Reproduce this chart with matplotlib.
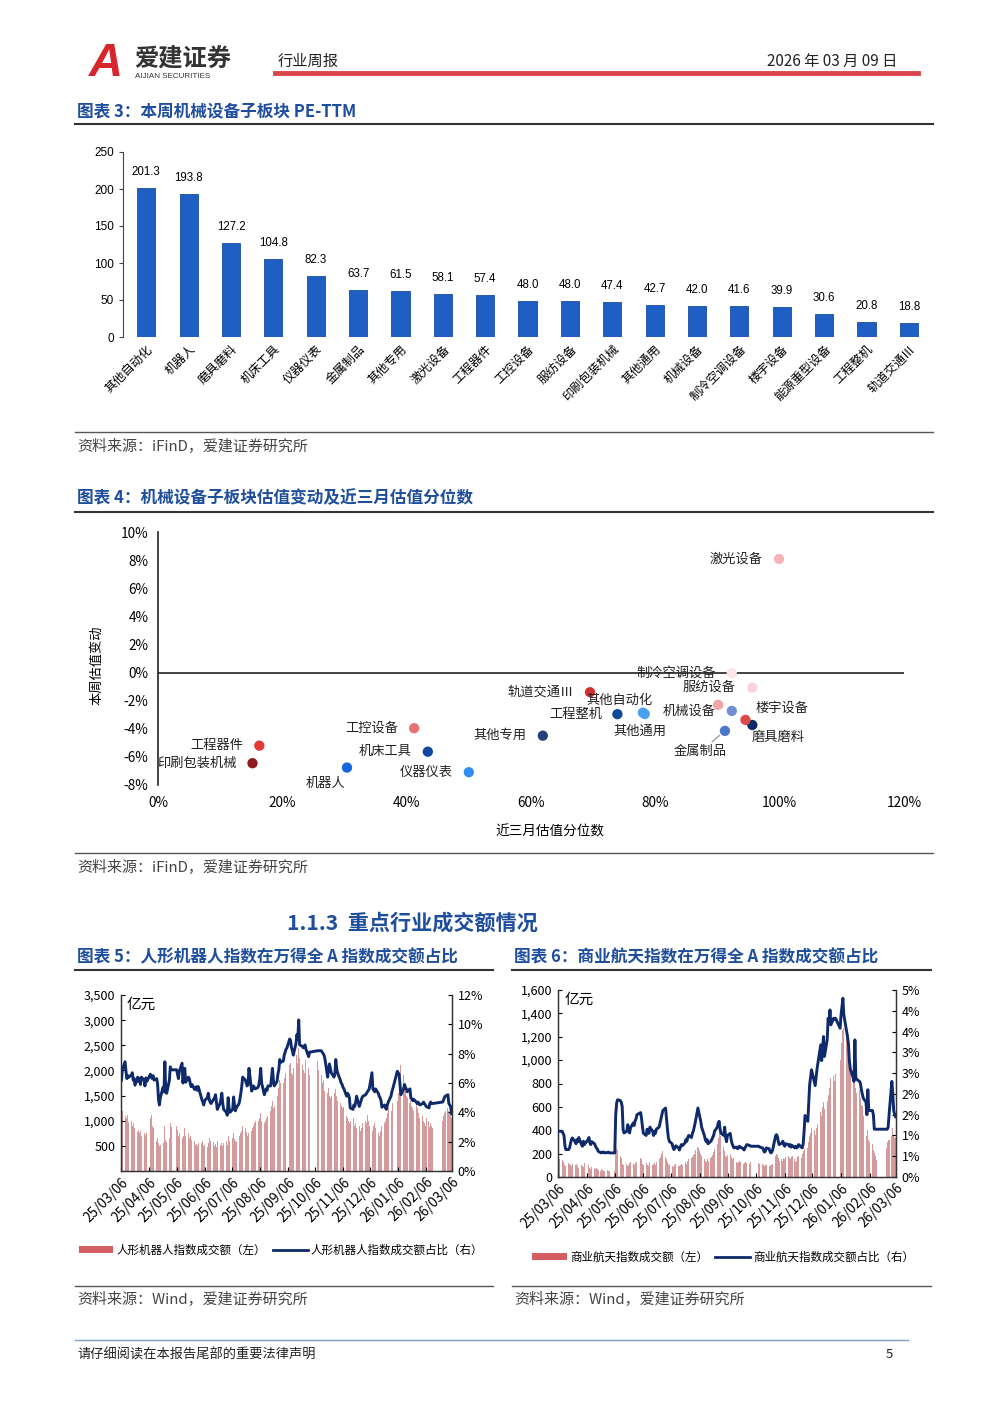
import numpy as np
import pandas as pd
import matplotlib
matplotlib.use('Agg')
import matplotlib.pyplot as plt
import matplotlib.dates as mdates
import matplotlib.transforms as mtrans
from matplotlib.lines import Line2D
from matplotlib.patches import Patch
from matplotlib.ticker import FuncFormatter

plt.rcParams['font.family'] = ['Noto Sans CJK SC', 'DejaVu Sans']

# ---- chart 3: PE-TTM by sub sector
pe_names = ['其他自动化', '机器人', '磨具磨料', '机床工具', '仪器仪表', '金属制品', '其他专用',
            '激光设备', '工程器件', '工控设备', '服纺设备', '印刷包装机械', '其他通用', '机械设备',
            '制冷空调设备', '楼宇设备', '能源重型设备', '工程整机', '轨道交通Ⅲ']
pe_values = [201.3, 193.8, 127.2, 104.8, 82.3, 63.7, 61.5, 58.1, 57.4, 48.0,
             48.0, 47.4, 42.7, 42.0, 41.6, 39.9, 30.6, 20.8, 18.8]

# ---- chart 4: weekly PE change (%) vs 3-month percentile (%)
sc_names = pe_names
sc_rank = [78.0, 30.4, 95.6, 43.4, 50.0, 91.2, 61.9, 99.9, 16.3, 41.2,
           95.6, 15.2, 78.3, 90.1, 92.3, 94.5, 92.3, 73.9, 69.5]
sc_change = [-2.85, -6.76, -3.73, -5.63, -7.09, -4.15, -4.49, 8.08, -5.20, -3.96,
             -1.07, -6.45, -2.95, -2.30, -0.05, -3.37, -2.73, -2.96, -1.40]
sc_colors = ['#4a9ff0', '#1565e0', '#0b2a66', '#0d47a1', '#2f8ff0', '#4a78c8', '#24417a',
             '#f4b4b8', '#e53935', '#e57373', '#fad4da', '#8e1b1b', '#4a9ff0', '#f4a3a6',
             '#fde4e6', '#dd4a48', '#6f8fd2', '#0d4a9a', '#d32f2f']
# label offsets in pixels (right, down); None = no label
sc_offsets = [(-23, -12), (-21, 16), (26, 12), (-43, 0), (-43, 0), (-25, 21), (-43, 0),
              (-43, 0), (-42, 0), (-42, 0), (-43, 0), (-56, 0), (-5, 17), (-29, 6),
              (-56, 0), (37, -12), None, (-42, 0), (-49, 0)]

# ---- trading calendar 25/03/06 - 26/03/06
holidays = ['2025-04-04', '2025-05-01', '2025-05-02', '2025-05-05', '2025-06-02',
            '2025-10-01', '2025-10-02', '2025-10-03', '2025-10-06', '2025-10-07', '2025-10-08',
            '2026-01-01', '2026-01-02', '2026-02-16', '2026-02-17', '2026-02-18',
            '2026-02-19', '2026-02-20', '2026-02-23']
days = pd.bdate_range('2025-03-06', '2026-03-06')
days = days[~days.isin(pd.to_datetime(holidays))]

# ---- chart 5: humanoid robot index turnover (亿元) and share of Wind A (%)
robot_vol = [1150, 1200, 1100, 1180, 1050, 1120, 980, 1000, 900, 950, 850, 900, 780, 820, 750, 800, 700, 760,
             680, 720, 750, 1050, 1110, 900, 850, 700, 600, 650, 550, 500, 520, 560, 480, 900, 620, 580, 650, 950, 880,
             900, 820, 700, 760, 880, 650, 700, 850, 700, 760, 650, 700, 620, 560, 600, 520, 540, 500, 560,
             550, 600, 500, 520, 480, 560, 650, 600, 700, 580, 500, 540, 480, 600, 650, 520, 550, 500, 560, 600,
             520, 700, 600, 560, 650, 750, 640, 600, 580, 620, 700, 760, 800, 900, 850, 780, 700, 750, 950, 800, 850, 900, 950,
             1000, 950, 1000, 1050, 1150, 1000, 950, 1000, 1050, 1100, 1150, 1200, 1300, 1400, 1250, 1300, 1400, 1500, 1650, 1800, 1750,
             1750, 1850, 1950, 2050, 2000, 2100, 2150, 1950, 1900, 2050, 2200, 2300, 2150, 2440, 2250, 2100, 2000, 1950, 2100, 2200, 2050, 1900,
             2180, 2000, 1900, 1750, 1800, 1750, 1600, 1550, 1650, 1500, 1450, 1500, 1400, 1550, 1640, 1500, 1400,
             1350, 1300, 1250, 1200, 1280, 1100, 1050, 1000, 950, 1000, 1150, 1050, 900, 950, 850, 900, 800, 850, 900, 950,
             1000, 950, 1110, 1000, 900, 850, 800, 900, 950, 850, 750, 700, 800, 850, 900, 950, 1000, 1050, 1150, 1250, 1300, 1200, 1350,
             1400, 1550, 1650, 1800, 2100, 1900, 1700, 1600, 1500, 1450, 1350, 1400, 1300, 1250, 1200, 1350, 1250, 1150, 1100, 1050,
             1100, 1000, 950, 900, 1050, 1000, 880, 950, 900, 850, 1000, 1100, 1150, 1200,
             1250, 1200, 1150, 1100, 1050]
robot_ratio = [6.2, 6.9, 7.45, 6.8, 6.3, 6.5, 6.4, 6.55, 6.7, 6.2, 6.3, 5.85, 6.4, 6.1, 6.3, 5.9, 6.4, 6.2,
               5.8, 6.35, 6.1, 6.6, 6.4, 6.3, 6.5, 6.2, 6.3, 5.9, 4.85, 4.5, 5.0, 5.7, 5.4, 7.45, 5.35, 5.3, 6.2, 7.1, 6.9,
               6.9, 6.6, 6.3, 6.8, 7.35, 6.0, 6.6, 7.0, 6.05, 6.4, 6.3, 6.0, 5.75, 5.9, 5.55, 5.7, 5.75, 5.5, 5.75,
               4.85, 4.7, 4.5, 4.8, 5.0, 5.3, 4.9, 4.7, 4.6, 4.9, 5.0, 5.2, 4.7, 4.2, 4.6, 4.9, 5.3, 4.6, 4.2, 4.0,
               3.8, 5.0, 4.3, 4.0, 4.2, 5.05, 4.5, 4.1, 4.3, 4.6, 4.9, 5.3, 5.75, 6.4, 6.2, 6.0, 5.8, 5.9, 7.0, 5.45, 5.6, 5.8, 5.7,
               5.6, 5.7, 5.9, 6.3, 7.0, 6.0, 5.2, 5.4, 5.6, 5.5, 5.8, 5.8, 6.4, 7.0, 6.2, 5.8, 6.1, 6.6, 6.9, 7.6, 7.4,
               7.5, 7.9, 8.1, 8.3, 8.4, 9.0, 8.9, 8.4, 8.2, 7.9, 8.7, 9.3, 9.0, 10.3, 8.6, 8.5, 8.4, 8.5, 8.6, 8.3, 7.8, 8.1,
               8.2, 8.2, 8.2, 8.1, 8.0, 7.9, 7.65, 6.4, 6.9, 7.3, 7.0, 6.7, 6.4, 6.6, 7.6, 7.0, 6.7,
               6.2, 6.0, 5.9, 5.7, 5.6, 5.1, 5.3, 5.2, 5.0, 4.3, 4.2, 4.5, 4.4, 4.7, 5.1, 4.4, 4.6, 4.8, 5.0, 5.1,
               5.2, 5.3, 5.4, 5.5, 5.6, 6.7, 5.6, 5.5, 5.4, 5.6, 5.3, 5.1, 5.0, 4.8, 4.35, 4.5, 4.3, 4.2, 4.5, 4.7, 5.1, 5.4, 5.6,
               6.8, 6.7, 6.6, 5.9, 5.2, 5.6, 5.9, 5.7, 5.6, 5.4, 5.6, 5.0, 4.9, 4.8, 4.9, 4.7, 4.6, 4.7, 4.6, 4.5,
               4.6, 4.7, 4.6, 4.5, 4.4, 4.3, 4.6, 4.7, 4.6, 4.6, 4.7, 4.8, 5.0, 5.1,
               5.2, 4.6, 4.5, 4.4, 3.9]

# ---- chart 6: commercial aerospace index turnover (亿元) and share (%)
space_vol = [160, 150, 145, 130, 110, 100, 95, 120, 110, 100, 90, 115, 100, 85, 110, 95, 80, 100,
             90, 85, 120, 130, 100, 80, 70, 85, 75, 65, 80, 70, 60, 55, 65, 60, 50, 55, 60, 55, 50,
             55, 200, 248, 230, 180, 160, 110, 100, 120, 110, 95, 105, 120, 130, 110, 100, 120, 140, 130,
             160, 150, 110, 100, 120, 105, 95, 110, 130, 100, 115, 120, 105, 130, 150, 170, 180, 200, 219, 170,
             150, 130, 110, 100, 95, 90, 85, 100, 110, 90, 95, 100, 110, 105, 120, 130, 115, 140, 150, 160, 170, 190, 200,
             230, 260, 250, 220, 200, 180, 150, 140, 130, 150, 140, 160, 170, 190, 210, 240, 280, 330, 375, 350, 320,
             260, 220, 180, 170, 190, 200, 170, 150, 140, 160, 130, 120, 130, 140, 125, 110, 120, 135, 130, 120, 115, 125,
             120, 115, 110, 100, 95, 105, 100, 90, 95, 100, 105, 110, 180, 200, 190, 160, 140,
             150, 140, 160, 150, 170, 180, 160, 150, 170, 180, 150, 130, 140, 170, 180, 160, 200, 220, 240, 230,
             250, 300, 350, 380, 420, 400, 360, 420, 450, 500, 560, 520, 600, 640, 580, 650, 700, 760, 800, 850, 860, 820, 880,
             1000, 1150, 1230, 1260, 1275, 1190, 1117, 1050, 974, 900, 860, 800, 880, 760, 718, 746, 680, 620, 604, 520,
             433, 348, 400, 319, 300, 280, 234, 205, 180, 148, 250, 300, 320, 319,
             348, 420, 360, 340, 330]
space_ratio = [1.1, 1.1, 1.1, 1.05, 1.0, 0.75, 0.66, 0.66, 0.7, 0.8, 0.9, 0.94, 0.85, 0.8, 0.9, 0.85, 0.95, 0.78,
               0.74, 0.86, 0.78, 0.9, 0.95, 0.82, 0.78, 0.85, 0.8, 0.75, 0.7, 0.68, 0.62, 0.58, 0.6, 0.59, 0.6, 0.58, 0.59, 0.6, 0.58,
               0.58, 1.5, 1.78, 1.86, 1.84, 1.8, 1.7, 1.14, 1.06, 1.1, 1.26, 1.18, 1.06, 1.18, 1.3, 1.24, 1.35, 1.4, 1.5,
               1.55, 1.4, 1.2, 1.05, 1.0, 1.15, 1.1, 1.05, 1.2, 1.1, 1.0, 1.1, 1.05, 1.15, 1.2, 1.3, 1.4, 1.5, 1.6, 1.66,
               1.4, 1.15, 0.95, 0.86, 0.8, 0.72, 0.66, 0.7, 0.75, 0.7, 0.65, 0.72, 0.78, 0.75, 0.82, 0.9, 0.86, 0.95, 1.0, 0.95, 1.05, 1.1, 1.2,
               1.3, 1.66, 1.55, 1.45, 1.35, 1.2, 1.0, 0.9, 0.85, 0.9, 0.8, 0.86, 0.9, 0.95, 1.0, 1.1, 1.2, 1.3, 1.34, 1.15, 1.05,
               1.0, 1.2, 0.95, 0.85, 1.0, 1.05, 0.9, 0.8, 0.75, 0.7, 0.72, 0.68, 0.7, 0.74, 0.72, 0.68, 0.65, 0.7, 0.74, 0.78, 0.76, 0.74,
               0.74, 0.72, 0.7, 0.65, 0.6, 0.62, 0.7, 0.68, 0.62, 0.58, 0.6, 0.66, 0.98, 1.02, 0.98, 0.86, 0.78,
               0.82, 0.86, 0.78, 0.74, 0.8, 0.78, 0.74, 0.78, 0.72, 0.76, 0.7, 0.74, 0.7, 0.72, 0.78, 0.72, 0.7, 0.8, 1.1, 1.48,
               1.34, 1.8, 2.22, 2.4, 2.58, 2.3, 2.2, 2.4, 2.6, 2.75, 3.18, 2.8, 3.1, 3.38, 2.9, 3.3, 3.82, 3.7, 4.02, 3.66, 3.82, 3.8, 3.82,
               3.58, 3.9, 4.1, 4.3, 3.9, 3.5, 3.38, 3.2, 2.8, 2.6, 2.4, 2.3, 3.3, 2.4, 2.35, 2.3, 2.25, 2.1, 2.0, 1.9,
               1.8, 1.5, 2.1, 1.6, 1.6, 1.6, 1.5, 1.15, 1.15, 1.15, 1.15, 1.15, 1.2, 1.5,
               2.3, 2.0, 1.6, 1.5, 1.45]

W, H = 1000, 1414
BLUE = '#1f4e9c'
fig = plt.figure(figsize=(10, 14.14), dpi=100)


def box(x0, y0, x1, y1):
    return [x0 / W, 1 - y1 / H, (x1 - x0) / W, (y1 - y0) / H]


def ftext(x, y, s, **kw):
    fig.text(x / W, 1 - y / H, s, **kw)


def hline(x0, x1, y, color='#333333', lw=1.0):
    fig.add_artist(Line2D([x0 / W, x1 / W], [1 - y / H] * 2, color=color, lw=lw,
                          transform=fig.transFigure))


# header
ftext(106, 64, 'A', fontsize=34, color='#d7262b', weight='bold', family='Liberation Sans',
      ha='center', va='center', style='italic')
ftext(134, 59, '爱建证券', fontsize=17.5, color='#333333', weight='bold', va='center')
ftext(135, 76, 'AIJIAN SECURITIES', fontsize=5.8, color='#333333', va='center', family='Liberation Sans')
ftext(278, 61, '行业周报', fontsize=11, color='#222222', va='center')
ftext(897, 61, '2026 年 03 月 09 日', fontsize=11, color='#222222', va='center', ha='right')
hline(275, 918, 73, color='#d9474d', lw=3.5)

# ---- chart 3
ftext(77, 111, '图表 3：本周机械设备子板块 PE-TTM', fontsize=12, color=BLUE, weight='bold', va='center')
hline(75, 933, 124, lw=1.5)
ax1 = fig.add_axes(box(123, 152, 930, 337))
xs = np.arange(len(pe_names))
ax1.bar(xs, pe_values, width=0.43, color='#1f5fc4', edgecolor='#184c9f', linewidth=0.6)
for xi, v in zip(xs, pe_values):
    ax1.annotate(f'{v:.1f}', (xi, v), xytext=(0, 10), textcoords='offset pixels',
                 ha='center', va='bottom', fontsize=8.3, family='Liberation Sans')
ax1.set_xlim(-0.55, 18.5)
ax1.set_ylim(0, 250)
ax1.set_yticks(range(0, 251, 50))
ax1.set_xticks(xs)
ax1.set_xticklabels(pe_names, rotation=45, ha='right', rotation_mode='anchor', fontsize=8.8)
for s in ['top', 'right', 'bottom']:
    ax1.spines[s].set_visible(False)
ax1.spines['left'].set_color('#444444')
ax1.spines['left'].set_linewidth(0.8)
ax1.tick_params(axis='y', direction='out', length=3, labelsize=8.5, color='#444444')
ax1.tick_params(axis='x', length=0, pad=4)
for lbl in ax1.get_yticklabels():
    lbl.set_family('Liberation Sans')
hline(75, 933, 432, color='#555555', lw=1)
ftext(77, 447, '资料来源：iFinD，爱建证券研究所', fontsize=10.8, color='#444444', va='center')

# ---- chart 4
ftext(77, 498, '图表 4：机械设备子板块估值变动及近三月估值分位数', fontsize=12, color=BLUE, weight='bold', va='center')
hline(75, 933, 512, lw=1.5)
ax2 = fig.add_axes(box(158, 532, 904, 785))
ax2.scatter(sc_rank, sc_change, s=55, c=sc_colors, zorder=3, linewidths=0)
ax2.axhline(0, color='#222222', lw=1.2, zorder=2)
for name, xv, yv, off in zip(sc_names, sc_rank, sc_change, sc_offsets):
    if off is None:
        continue
    arrow = None
    if name == '金属制品':
        arrow = dict(arrowstyle='-', color='#9a9a9a', lw=0.9, shrinkA=1, shrinkB=5)
    ax2.annotate(name, (xv, yv), xytext=(off[0], -off[1]), textcoords='offset pixels',
                 ha='center', va='center', fontsize=9.5, color='#222222', arrowprops=arrow, zorder=4)
ax2.set_xlim(0, 120)
ax2.set_ylim(-8, 10)
ax2.set_xticks(range(0, 121, 20))
ax2.set_yticks(range(-8, 11, 2))
pct = FuncFormatter(lambda v, p: f'{v:.0f}%')
ax2.xaxis.set_major_formatter(pct)
ax2.yaxis.set_major_formatter(pct)
for s in ['top', 'right', 'bottom']:
    ax2.spines[s].set_visible(False)
ax2.spines['left'].set_color('#222222')
ax2.spines['left'].set_linewidth(1.2)
ax2.tick_params(axis='x', length=0, pad=8, labelsize=9.8)
ax2.tick_params(axis='y', length=0, pad=7, labelsize=9.8)
ftext(97, 665, '本周估值变动', fontsize=9.5, rotation=90, ha='center', va='center')
ftext(550, 831, '近三月估值分位数', fontsize=9.8, ha='center', va='center')
hline(75, 933, 853, color='#555555', lw=1)
ftext(77, 868, '资料来源：iFinD，爱建证券研究所', fontsize=10.8, color='#444444', va='center')

# ---- section heading
ftext(287, 923, '1.1.3  重点行业成交额情况', fontsize=15.2, color=BLUE, weight='bold', va='center')

month_ticks = pd.date_range('2025-03-06', '2026-03-06', freq=pd.DateOffset(months=1))


def trade_chart(rect, vol, ratio, vmax, vstep, rmax, rticks, rfmt, zero_label, unit_xy,
                label_dx, legend_xy, labels):
    n = min(len(days), len(vol), len(ratio))
    d = days[:n]
    ax = fig.add_axes(box(*rect))
    ax.bar(d, vol[:n], width=1.0, color='#d49a9c', linewidth=0, zorder=1)
    ax.set_ylim(0, vmax)
    ax.set_yticks(np.arange(0, vmax + 1, vstep))
    ax.yaxis.set_major_formatter(FuncFormatter(
        lambda v, p: (f'{v:,.0f}' if (v > 0 or zero_label) else '')))
    ax.set_xlim(d[0] - pd.Timedelta(hours=12), d[-1] + pd.Timedelta(hours=12))
    ax.set_xticks(month_ticks)
    ax.xaxis.set_major_formatter(mdates.DateFormatter('%y/%m/%d'))
    plt.setp(ax.get_xticklabels(), rotation=45, ha='right', rotation_mode='anchor', fontsize=9.8)
    shift = mtrans.ScaledTranslation(label_dx / 100, 0, fig.dpi_scale_trans)
    for lbl in ax.get_xticklabels():
        lbl.set_transform(lbl.get_transform() + shift)
    axr = ax.twinx()
    axr.plot(d, ratio[:n], color='#0f2a6b', lw=2.1, zorder=3)
    axr.set_ylim(0, rmax)
    axr.set_yticks(rticks)
    axr.yaxis.set_major_formatter(FuncFormatter(rfmt))
    for a in (ax, axr):
        a.spines['top'].set_visible(False)
        for s in ['left', 'right', 'bottom']:
            a.spines[s].set_color('#333333')
            a.spines[s].set_linewidth(0.9)
    ax.tick_params(axis='y', direction='in', length=3, labelsize=9, pad=4)
    ax.tick_params(axis='x', direction='in', length=3, pad=3)
    axr.tick_params(axis='y', direction='in', length=3, labelsize=9, pad=4)
    ftext(unit_xy[0], unit_xy[1], '亿元', fontsize=10.5, va='center')
    handles = [Patch(facecolor='#d35d60', edgecolor='none'),
               Line2D([], [], color='#0f2a6b', lw=2)]
    fig.legend(handles, labels, loc='center', bbox_to_anchor=(legend_xy[0] / W, 1 - legend_xy[1] / H),
               ncol=2, frameon=False, fontsize=8.3, handlelength=3, handleheight=0.6,
               handletextpad=0.3, columnspacing=0.6)


ftext(77, 957, '图表 5：人形机器人指数在万得全 A 指数成交额占比', fontsize=12, color=BLUE, weight='bold', va='center')
hline(75, 493, 970, lw=1.5)
trade_chart((121, 995, 452, 1171), robot_vol, robot_ratio, 3500, 500, 12, range(0, 13, 2),
            lambda v, p: f'{v:.0f}%', False, (127, 1005), 14, (281, 1250),
            ['人形机器人指数成交额（左）', '人形机器人指数成交额占比（右）'])

ftext(514, 957, '图表 6：商业航天指数在万得全 A 指数成交额占比', fontsize=12, color=BLUE, weight='bold', va='center')
hline(512, 931, 970, lw=1.5)
trade_chart((558, 990, 896, 1177), space_vol, space_ratio, 1600, 200, 4.5, np.arange(0, 4.51, 0.5),
            lambda v, p: f'{int(np.floor(v + 0.5 + 1e-9))}%', True, (565, 1000), 0, (723, 1257),
            ['商业航天指数成交额（左）', '商业航天指数成交额占比（右）'])

hline(75, 493, 1286, color='#555555', lw=1)
hline(512, 931, 1286, color='#555555', lw=1)
ftext(77, 1300, '资料来源：Wind，爱建证券研究所', fontsize=10.8, color='#444444', va='center')
ftext(514, 1300, '资料来源：Wind，爱建证券研究所', fontsize=10.8, color='#444444', va='center')

# footer
hline(75, 908, 1340, color='#7f9cc5', lw=1)
ftext(77, 1355, '请仔细阅读在本报告尾部的重要法律声明', fontsize=9.5, color='#222222', va='center')
ftext(893, 1355, '5', fontsize=9.5, color='#222222', va='center', ha='right')

fig.savefig('out.png', dpi=100)
